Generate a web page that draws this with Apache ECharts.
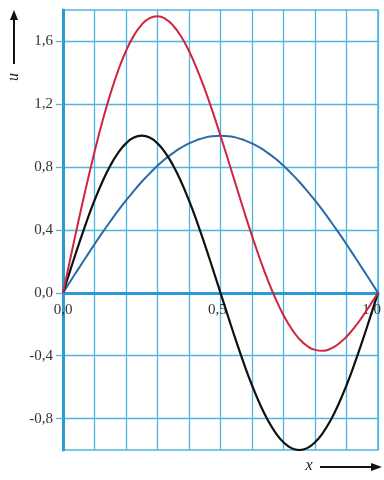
<!DOCTYPE html>
<html>
<head>
<meta charset="utf-8">
<script src="https://cdn.jsdelivr.net/npm/echarts@6/dist/echarts.min.js"></script>
<style>
  html, body { margin: 0; padding: 0; background: #fff; }
  #chart { width: 384px; height: 480px; }
</style>
</head>
<body>
<div id="chart"></div>
<script>
const xs = [0, 0.025, 0.05, 0.075, 0.1, 0.125, 0.15, 0.175, 0.2, 0.225, 0.25,
            0.275, 0.3, 0.325, 0.35, 0.375, 0.4, 0.425, 0.45, 0.475, 0.5,
            0.525, 0.55, 0.575, 0.6, 0.625, 0.65, 0.675, 0.7, 0.725, 0.75,
            0.775, 0.8, 0.825, 0.85, 0.875, 0.9, 0.925, 0.95, 0.975, 1];
const uBlue = [0, 0.079, 0.156, 0.233, 0.309, 0.383, 0.454, 0.523, 0.588, 0.649, 0.707,
               0.760, 0.809, 0.853, 0.891, 0.924, 0.951, 0.972, 0.988, 0.997, 1.0,
               0.997, 0.988, 0.972, 0.951, 0.924, 0.891, 0.853, 0.809, 0.760, 0.707,
               0.649, 0.588, 0.523, 0.454, 0.383, 0.309, 0.233, 0.156, 0.079, 0];
const uBlack = [0, 0.156, 0.309, 0.454, 0.588, 0.707, 0.809, 0.891, 0.951, 0.988, 1.0,
                0.988, 0.951, 0.891, 0.809, 0.707, 0.588, 0.454, 0.309, 0.156, 0,
                -0.156, -0.309, -0.454, -0.588, -0.707, -0.809, -0.891, -0.951, -0.988, -1.0,
                -0.988, -0.951, -0.891, -0.809, -0.707, -0.588, -0.454, -0.309, -0.156, 0];
const uRed = [0, 0.235, 0.465, 0.687, 0.897, 1.090, 1.263, 1.414, 1.539, 1.637, 1.707,
              1.748, 1.760, 1.744, 1.700, 1.631, 1.539, 1.426, 1.297, 1.153, 1.0,
              0.841, 0.679, 0.518, 0.363, 0.217, 0.082, -0.038, -0.142, -0.227, -0.293,
              -0.338, -0.363, -0.369, -0.355, -0.324, -0.279, -0.221, -0.153, -0.078, 0];
const yTicks = [-0.8, -0.4, 0, 0.4, 0.8, 1.2, 1.6];
const xTicks = [0, 0.5, 1];

const pairs = ys => xs.map((x, i) => [x, ys[i]]);
const comma = v => v.toFixed(1).replace('.', ',');

const gridBlue = '#4fb6e2';
const axisBlue = '#2a9ad6';
const serif = 'Liberation Serif';

// plot area: 10..450 px for u = 1.8 .. -1.0, so u = 0 sits here
const zeroY = 10 + 440 * 1.8 / 2.8;

const chart = echarts.init(document.getElementById('chart'));

const option = {
    animation: false,
    grid: [
        { left: 63, right: 6, top: 10, bottom: 30,
          show: true, borderColor: gridBlue, borderWidth: 1.5 },
        // helper grid whose bottom edge is the u = 0 line, only for x labels
        { left: 63, right: 6, top: 10, bottom: 480 - zeroY }
    ],
    xAxis: [
        {
            type: 'value', gridIndex: 0,
            min: 0, max: 1, interval: 0.1,
            axisLine: { onZero: true, lineStyle: { color: axisBlue, width: 3 } },
            axisTick: { show: false },
            axisLabel: { show: false },
            splitLine: { lineStyle: { color: gridBlue, width: 1.3 } }
        },
        {
            type: 'value', gridIndex: 1,
            min: 0, max: 1, interval: 0.1,
            axisLine: { show: false },
            axisTick: { show: false },
            splitLine: { show: false },
            axisLabel: {
                customValues: xTicks,
                formatter: comma,
                color: '#333', fontFamily: serif, fontSize: 15, margin: 10
            }
        }
    ],
    yAxis: [
        {
            type: 'value', gridIndex: 0,
            min: -1, max: 1.8, interval: 0.2,
            axisLine: { show: true, onZero: false, lineStyle: { color: axisBlue, width: 3 } },
            axisTick: { show: true, customValues: yTicks, length: 7, lineStyle: { color: gridBlue, width: 1.3 } },
            axisLabel: {
                customValues: yTicks,
                formatter: comma,
                color: '#333', fontFamily: serif, fontSize: 15, margin: 10
            },
            splitLine: { lineStyle: { color: gridBlue, width: 1.3 } }
        },
        { type: 'value', gridIndex: 1, min: 0, max: 1, show: false }
    ],
    series: [
        { type: 'line', data: pairs(uBlue), smooth: true, symbol: 'none',
          lineStyle: { color: '#2a6aa6', width: 2 } },
        { type: 'line', data: pairs(uBlack), smooth: true, symbol: 'none',
          lineStyle: { color: '#111', width: 2.2 } },
        { type: 'line', data: pairs(uRed), smooth: true, symbol: 'none',
          lineStyle: { color: '#d0253f', width: 2 } }
    ],
    graphic: [
        { type: 'line', shape: { x1: 14, y1: 64, x2: 14, y2: 18 },
          style: { stroke: '#111', lineWidth: 2 } },
        { type: 'polygon', shape: { points: [[14, 10], [10, 20], [18, 20]] },
          style: { fill: '#111' } },
        { type: 'text', x: 14, y: 77, rotation: Math.PI / 2,
          style: { text: 'u', font: 'italic 16px "Liberation Serif"', fill: '#222',
                   align: 'center', verticalAlign: 'middle' } },
        { type: 'text', x: 309, y: 466,
          style: { text: 'x', font: 'italic 16px "Liberation Serif"', fill: '#222',
                   align: 'center', verticalAlign: 'middle' } },
        { type: 'line', shape: { x1: 320, y1: 467, x2: 372, y2: 467 },
          style: { stroke: '#111', lineWidth: 2 } },
        { type: 'polygon', shape: { points: [[382, 467], [371, 463], [371, 471]] },
          style: { fill: '#111' } }
    ]
};

chart.setOption(option);
</script>
</body>
</html>
